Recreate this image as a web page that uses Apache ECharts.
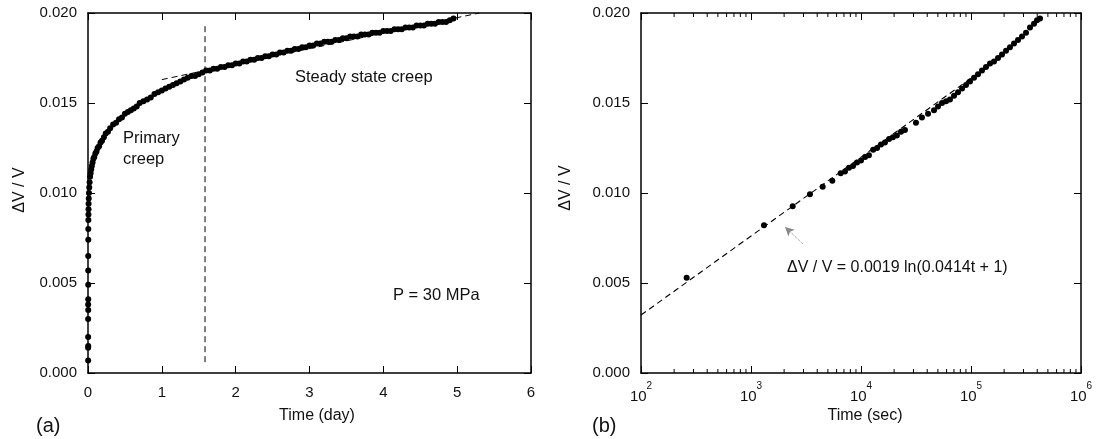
<!DOCTYPE html>
<html><head><meta charset="utf-8">
<script src="https://cdn.jsdelivr.net/npm/echarts@6/dist/echarts.min.js"></script>
<style>html,body{margin:0;padding:0;background:#fff}#c{width:1101px;height:439px}</style>
</head><body><div id="c"></div>
<script>
// ---- data: panel (a), time in days vs dV/V ----
const creepDays = [
 [0.002,0.0007],[0.002,0.0014],[0.003,0.0015],[0.002,0.0020],[0.002,0.0030],[0.003,0.0035],[0.002,0.0038],[0.003,0.0041],
 [0.003,0.0049],[0.003,0.0057],[0.003,0.0065],[0.004,0.0074],[0.004,0.0080],[0.005,0.0085],[0.006,0.0088],[0.007,0.0091],
 [0.008,0.0094],[0.010,0.0097],[0.013,0.0100],[0.017,0.0103],[0.022,0.0106],[0.028,0.0109],[0.035,0.0111],[0.043,0.0113],
 [0.052,0.0115],[0.062,0.0117],[0.073,0.0119],[0.085,0.0120],[0.10,0.0122],[0.115,0.0123],[0.13,0.0125],[0.15,0.0126],
 [0.17,0.0128],[0.19,0.0129],[0.215,0.0131],[0.24,0.0133],[0.27,0.0134],[0.30,0.0136],[0.34,0.0138],[0.38,0.0139],
 [0.42,0.0141],[0.46,0.0142],[0.50,0.0144],[0.54,0.0145],[0.58,0.0146],[0.62,0.0147],[0.66,0.0148],[0.70,0.0150],
 [0.75,0.0151],[0.80,0.0152],[0.85,0.0153],[0.90,0.0155],[0.95,0.0156],[1.00,0.0157],[1.05,0.0158],[1.10,0.0159],
 [1.15,0.0160],[1.20,0.0161],[1.25,0.0162],[1.30,0.0163],[1.35,0.0164],[1.40,0.0165],[1.45,0.0165],[1.50,0.0166],
 [1.55,0.0167],[1.60,0.0168],[1.65,0.0168],[1.70,0.0169],[1.75,0.0169],[1.80,0.0170],[1.85,0.0170],[1.90,0.0171],
 [1.95,0.0171],[2.00,0.0172],[2.05,0.0172],[2.10,0.0173],[2.15,0.0173],[2.20,0.0174],[2.25,0.0174],[2.30,0.0175],
 [2.35,0.0175],[2.40,0.0176],[2.45,0.0176],[2.50,0.0177],[2.55,0.0177],[2.60,0.0178],[2.65,0.0178],[2.70,0.0179],
 [2.75,0.0179],[2.80,0.0180],[2.85,0.0180],[2.90,0.0181],[2.95,0.0181],[3.00,0.0182],[3.05,0.0182],[3.10,0.0183],
 [3.15,0.0183],[3.20,0.0184],[3.25,0.0184],[3.30,0.0184],[3.35,0.0185],[3.40,0.0185],[3.45,0.0186],[3.50,0.0186],
 [3.55,0.0187],[3.60,0.0187],[3.65,0.0187],[3.70,0.0188],[3.75,0.0188],[3.80,0.0188],[3.85,0.0189],[3.90,0.0189],
 [3.95,0.0189],[4.00,0.0190],[4.05,0.0190],[4.10,0.0190],[4.15,0.0191],[4.20,0.0191],[4.25,0.0191],[4.30,0.0192],
 [4.35,0.0192],[4.40,0.0192],[4.45,0.0193],[4.50,0.0193],[4.55,0.0193],[4.60,0.0194],[4.65,0.0194],[4.70,0.0194],
 [4.75,0.0195],[4.80,0.0195],[4.85,0.0195],[4.90,0.0196],[4.95,0.0197]
];
const steadyLine = [[1.0,0.0163],[5.3,0.0200]];
const boundaryLine = [[1.585,0.0006],[1.585,0.0193]];

// ---- data: panel (b), time in seconds (log) vs dV/V ----
const creepSec = [
 [260,0.00529],[1312,0.00821],[2393,0.00926],[3436,0.00993],[4483,0.01035],[5483,0.01068],[6535,0.0111],
 [7150,0.0112],[7780,0.0114],[8460,0.0115],[9200,0.0117],[10000,0.0118],[10900,0.0120],[11800,0.0121],
 [12900,0.0124],[14000,0.0125],[15200,0.0127],[16500,0.0128],[18000,0.0130],[19500,0.0131],[21200,0.0132],
 [23100,0.0134],[25100,0.0135],[31600,0.0139],[35800,0.0142],[40700,0.0144],[46100,0.0146],[50100,0.0148],
 [54500,0.0150],[59300,0.0151],[64400,0.0152],[70100,0.0154],[76200,0.0156],[82900,0.0158],[90100,0.0160],
 [97900,0.0162],[106500,0.0164],[115800,0.0166],[125900,0.0168],[136900,0.0170],[148900,0.0172],[161900,0.0173],
 [176000,0.0175],[191400,0.0177],[208100,0.0179],[226200,0.0181],[246000,0.0183],[267500,0.0185],[290900,0.0187],
 [316200,0.0189],[343900,0.0192],[374000,0.0194],[398100,0.0196],[424000,0.0197]
];
const fitLine = [[100,0.00322],[200000,0.0177]];
const arrowLine = [[2970,0.00717],[2040,0.00811]];

// ---- ticks ----
const dayTicks = [0,1,2,3,4,5,6];
const strainTicks = [0,0.005,0.010,0.015,0.020];
const logMinorTicks = [200,300,400,500,600,700,800,900,2000,3000,4000,5000,6000,7000,8000,9000,
 20000,30000,40000,50000,60000,70000,80000,90000,200000,300000,400000,500000,600000,700000,800000,900000];

const FONT = 'Liberation Sans, Arial, Helvetica, sans-serif';
const TXT = '#111';
const axisLine = {show:true, onZero:false, lineStyle:{color:'#000', width:1.5}};
const tick = {show:true, inside:true, length:7, lineStyle:{color:'#000', width:1}};

function yAxes(gridIndex){
  return [
    {type:'value', gridIndex, position:'left', min:strainTicks[0], max:strainTicks[strainTicks.length-1], interval:0.005,
     axisLine, axisTick:tick, splitLine:{show:false},
     axisLabel:{color:TXT, fontSize:15, fontFamily:FONT, margin:11, formatter:v=>v.toFixed(3)}},
    {type:'value', gridIndex, position:'right', min:strainTicks[0], max:strainTicks[strainTicks.length-1], interval:0.005,
     axisLine, axisTick:tick, splitLine:{show:false}, axisLabel:{show:false}}
  ];
}

const chart = echarts.init(document.getElementById('c'), null, {renderer:'canvas'});
chart.setOption({
  animation:false,
  backgroundColor:'#fff',
  grid:[
    {left:88, top:13, width:443, height:360},
    {left:641, top:13, width:440, height:360}
  ],
  xAxis:[
    {type:'value', gridIndex:0, position:'bottom', min:dayTicks[0], max:dayTicks[dayTicks.length-1], interval:1,
     axisLine, axisTick:tick, splitLine:{show:false},
     axisLabel:{color:TXT, fontSize:15, fontFamily:FONT, margin:12}},
    {type:'value', gridIndex:0, position:'top', min:dayTicks[0], max:dayTicks[dayTicks.length-1], interval:1,
     axisLine, axisTick:tick, splitLine:{show:false}, axisLabel:{show:false}},
    {type:'log', gridIndex:1, position:'bottom', min:100, max:1000000, logBase:10,
     axisLine, axisTick:tick, splitLine:{show:false},
     axisLabel:{margin:8, formatter:v=>'{b|10}{s|'+Math.round(Math.log10(v))+'}',
       rich:{b:{fontSize:15, fontFamily:FONT, color:TXT, lineHeight:23, verticalAlign:'bottom'},
             s:{fontSize:10, fontFamily:FONT, color:TXT, verticalAlign:'top'}}}},
    {type:'log', gridIndex:1, position:'top', min:100, max:1000000, logBase:10,
     axisLine, axisTick:tick, splitLine:{show:false}, axisLabel:{show:false}}
  ],
  yAxis:[...yAxes(0), ...yAxes(1)],
  series:[
    {type:'scatter', xAxisIndex:0, yAxisIndex:0, data:creepDays, symbol:'circle', symbolSize:6,
     itemStyle:{color:'#000', opacity:1}, silent:true, z:3},
    {type:'line', xAxisIndex:0, yAxisIndex:0, data:steadyLine, showSymbol:false, symbol:'none',
     lineStyle:{color:'#000', width:1, type:[6,4], opacity:1}, silent:true, z:2},
    {type:'line', xAxisIndex:0, yAxisIndex:0, data:boundaryLine, showSymbol:false, symbol:'none',
     lineStyle:{color:'#000', width:1, type:[6,4], opacity:1}, silent:true, z:2},
    {type:'scatter', xAxisIndex:2, yAxisIndex:2, data:creepSec, symbol:'circle', symbolSize:6,
     itemStyle:{color:'#000', opacity:1}, silent:true, z:3},
    {type:'line', xAxisIndex:2, yAxisIndex:2, data:fitLine, showSymbol:false, symbol:'none',
     lineStyle:{color:'#000', width:1.1, type:[6,4], opacity:1}, silent:true, z:2,
     markLine:{silent:true, animation:false, symbol:['none','arrow'], symbolSize:[7,9],
       lineStyle:{color:'#888', width:1, type:'dotted'}, label:{show:false}, emphasis:{disabled:true},
       data:[[{coord:arrowLine[0]},{coord:arrowLine[1]}]]}},
    {type:'custom', xAxisIndex:2, yAxisIndex:2, data:logMinorTicks.map(v=>[v, 0]), silent:true, z:5, clip:false,
     renderItem:function(params, api){
       const x = api.value(0);
       const pb = api.coord([x, strainTicks[0]]);
       const pt = api.coord([x, strainTicks[strainTicks.length-1]]);
       return {type:'group', children:[
         {type:'line', shape:{x1:pb[0], y1:pb[1], x2:pb[0], y2:pb[1]-4}, style:{stroke:'#000', lineWidth:1}},
         {type:'line', shape:{x1:pt[0], y1:pt[1], x2:pt[0], y2:pt[1]+4}, style:{stroke:'#000', lineWidth:1}}
       ]};
     }}
  ],
  graphic:[
    {type:'text', x:20, y:190, rotation:Math.PI/2, style:{text:'ΔV / V', fill:TXT, font:'16px '+FONT, textAlign:'center', textVerticalAlign:'middle'}},
    {type:'text', x:566, y:188, rotation:Math.PI/2, style:{text:'ΔV / V', fill:TXT, font:'16px '+FONT, textAlign:'center', textVerticalAlign:'middle'}},
    {type:'text', x:317, y:416, style:{text:'Time (day)', fill:TXT, font:'16px '+FONT, textAlign:'center', textVerticalAlign:'middle'}},
    {type:'text', x:865, y:416, style:{text:'Time (sec)', fill:TXT, font:'16px '+FONT, textAlign:'center', textVerticalAlign:'middle'}},
    {type:'text', x:36, y:426, style:{text:'(a)', fill:TXT, font:'20px '+FONT, textAlign:'left', textVerticalAlign:'middle'}},
    {type:'text', x:592, y:426, style:{text:'(b)', fill:TXT, font:'20px '+FONT, textAlign:'left', textVerticalAlign:'middle'}},
    {type:'text', x:123, y:128, style:{text:'Primary\ncreep', fill:TXT, font:'16.5px '+FONT, lineHeight:21, textAlign:'left', textVerticalAlign:'top'}},
    {type:'text', x:295, y:77, style:{text:'Steady state creep', fill:TXT, font:'16.5px '+FONT, textAlign:'left', textVerticalAlign:'middle'}},
    {type:'text', x:393, y:295, style:{text:'P = 30 MPa', fill:TXT, font:'16.5px '+FONT, textAlign:'left', textVerticalAlign:'middle'}},
    {type:'text', x:787, y:268, style:{text:'ΔV / V = 0.0019 ln(0.0414t + 1)', fill:TXT, font:'16px '+FONT, textAlign:'left', textVerticalAlign:'middle'}}
  ]
});
</script></body></html>
